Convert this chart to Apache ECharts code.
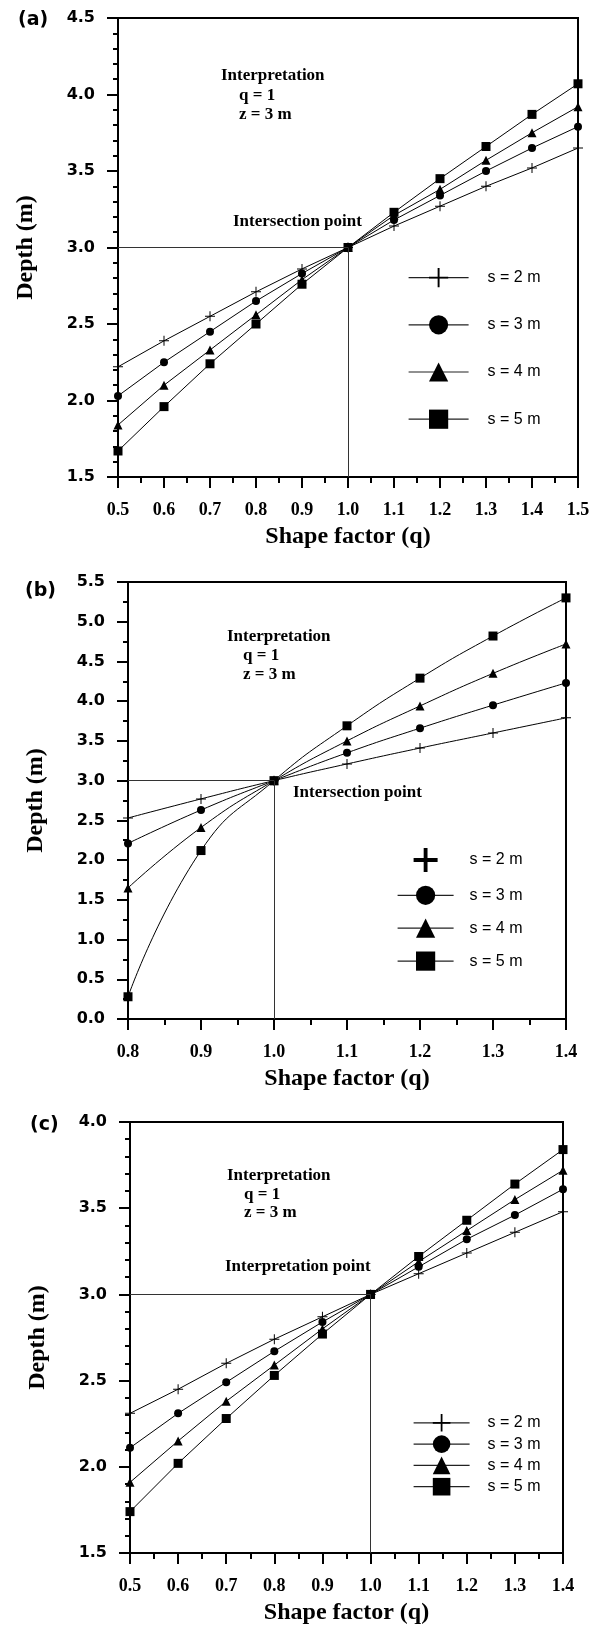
<!DOCTYPE html>
<html>
<head>
<meta charset="utf-8">
<script src="https://cdn.jsdelivr.net/npm/echarts@6.0.0/dist/echarts.min.js"></script>
<style>
  html, body { margin: 0; padding: 0; background: #fff; }
  #chart { width: 598px; height: 1626px; }
</style>
</head>
<body>
<div id="chart"></div>
<script>
// panel (a)
const qA = [0.5, 0.6, 0.7, 0.8, 0.9, 1.0, 1.1, 1.2, 1.3, 1.4, 1.5];
const a2 = [2.22, 2.39, 2.55, 2.71, 2.86, 3.0, 3.14, 3.27, 3.40, 3.52, 3.65];
const a3 = [2.03, 2.25, 2.45, 2.65, 2.83, 3.0, 3.18, 3.34, 3.50, 3.65, 3.79];
const a4 = [1.84, 2.10, 2.33, 2.56, 2.79, 3.0, 3.21, 3.38, 3.57, 3.75, 3.92];
const a5 = [1.67, 1.96, 2.24, 2.50, 2.76, 3.0, 3.23, 3.45, 3.66, 3.87, 4.07];

// panel (b)
const qB = [0.8, 0.9, 1.0, 1.1, 1.2, 1.3, 1.4];
const b2 = [2.53, 2.77, 3.0, 3.21, 3.41, 3.60, 3.79];
const b3 = [2.21, 2.63, 3.0, 3.35, 3.66, 3.95, 4.23];
const b4 = [1.65, 2.41, 3.0, 3.50, 3.94, 4.35, 4.72];
const b5 = [0.28, 2.12, 3.0, 3.69, 4.29, 4.82, 5.30];

// panel (c)
const qC = [0.5, 0.6, 0.7, 0.8, 0.9, 1.0, 1.1, 1.2, 1.3, 1.4];
const c2 = [2.31, 2.45, 2.60, 2.74, 2.87, 3.0, 3.12, 3.24, 3.36, 3.48];
const c3 = [2.11, 2.31, 2.49, 2.67, 2.84, 3.0, 3.16, 3.32, 3.46, 3.61];
const c4 = [1.91, 2.15, 2.38, 2.59, 2.80, 3.0, 3.19, 3.37, 3.55, 3.72];
const c5 = [1.74, 2.02, 2.28, 2.53, 2.77, 3.0, 3.22, 3.43, 3.64, 3.84];

const names = ['s = 2 m', 's = 3 m', 's = 4 m', 's = 5 m'];
const panelTags = ['(a)', '(b)', '(c)'];
const xTitle = 'Shape factor (q)';
const yTitle = 'Depth (m)';
const noteLines = ['Interpretation', 'q = 1', 'z = 3 m'];
const pointTitles = ['Intersection point', 'Intersection point', 'Interpretation point'];

const PLUS = 'path://M4.5,0H5.5V10H4.5Z M0,4.5H10V5.5H0Z';
const PLUS_BOLD = 'path://M4.2,0H5.8V10H4.2Z M0,4.2H10V5.8H0Z';
const symbols = [PLUS, 'circle', 'triangle', 'rect'];
const markSizes = [10, 8, 9, 9];

const serif = 'Liberation Serif, Times New Roman, serif';
const sans = 'DejaVu Sans, Arial, sans-serif';
const arial = 'Liberation Sans, Arial, sans-serif';

const grids = [
    { left: 118, top: 18, width: 460, height: 459 },
    { left: 128, top: 582, width: 438, height: 437 },
    { left: 130, top: 1122, width: 433, height: 431 }
];
const xRanges = [[0.5, 1.5], [0.8, 1.4], [0.5, 1.4]];
const yRanges = [[1.5, 4.5], [0, 5.5], [1.5, 4.0]];
const yMinorSplit = [5, 2, 5];

function makeXAxis(i) {
    return {
        type: 'value', gridIndex: i,
        min: xRanges[i][0], max: xRanges[i][1], interval: 0.1,
        name: xTitle, nameLocation: 'middle', nameGap: 48,
        nameTextStyle: { fontFamily: serif, fontWeight: 'bold', fontSize: 24, color: '#000' },
        axisLine: { lineStyle: { color: '#000', width: 2 } },
        axisTick: { length: 11, lineStyle: { color: '#000', width: 2 } },
        minorTick: { show: true, splitNumber: 2, length: 6, lineStyle: { color: '#000', width: 2 } },
        splitLine: { show: false },
        axisLabel: {
            margin: 24, color: '#000', fontFamily: serif, fontWeight: 'bold', fontSize: 18,
            formatter: v => v.toFixed(1)
        }
    };
}

function makeYAxis(i) {
    return {
        type: 'value', gridIndex: i,
        min: yRanges[i][0], max: yRanges[i][1], interval: 0.5,
        name: yTitle, nameLocation: 'middle', nameGap: 80,
        nameTextStyle: { fontFamily: serif, fontWeight: 'bold', fontSize: 24, color: '#000' },
        axisLine: { lineStyle: { color: '#000', width: 2 } },
        axisTick: { length: 11, lineStyle: { color: '#000', width: 2 } },
        minorTick: { show: true, splitNumber: yMinorSplit[i], length: 5, lineStyle: { color: '#000', width: 2 } },
        splitLine: { show: false },
        axisLabel: {
            margin: 23, color: '#000', fontFamily: sans, fontWeight: 'bold', fontSize: 16,
            formatter: v => v.toFixed(1)
        }
    };
}

function makeSeries(i, qs, sets, smooth) {
    return sets.map((vals, k) => {
        const s = {
            name: names[k],
            type: 'line',
            xAxisIndex: i, yAxisIndex: i,
            data: qs.map((q, j) => [q, vals[j]]),
            smooth: smooth,
            symbol: symbols[k],
            symbolSize: markSizes[k],
            lineStyle: { color: '#000', width: 1 },
            itemStyle: { color: '#000' },
            z: 3
        };
        if (k === 0) {
            // guide lines through the intersection point
            s.markLine = {
                silent: true,
                symbol: 'none',
                label: { show: false },
                lineStyle: { color: '#333', width: 1, type: 'solid' },
                data: [
                    [{ coord: [xRanges[i][0], 3] }, { coord: [1, 3] }],
                    [{ coord: [1, 3] }, { coord: [1, yRanges[i][0]] }]
                ]
            };
        }
        return s;
    });
}

const legendBoxes = [
    { left: 403, top: 263, itemWidth: 60, itemHeight: 24, itemGap: 28, pad: 14 },
    { left: 392, top: 843, itemWidth: 56, itemHeight: 24, itemGap: 13.7, pad: 11 },
    { left: 408, top: 1409, itemWidth: 56, itemHeight: 22, itemGap: 3.7, pad: 13 }
];

function makeLegend(i) {
    const b = legendBoxes[i];
    const data = names.map((n, k) => {
        if (i === 1 && k === 0) return { name: n, icon: PLUS_BOLD };
        return { name: n };
    });
    return {
        orient: 'vertical',
        left: b.left, top: b.top,
        itemWidth: b.itemWidth, itemHeight: b.itemHeight, itemGap: b.itemGap,
        selectedMode: false,
        data: data,
        lineStyle: { color: '#222', width: 1.2 },
        textStyle: { fontFamily: arial, fontSize: 16, color: '#000', padding: [0, 0, 0, b.pad] }
    };
}

// annotation anchor points (px)
const noteAt = [[221, 76, 239], [227, 637, 243], [227, 1176, 244]];
const noteGap = [19.5, 18.8, 18.5];
const pointAt = [[233, 222], [293, 793], [225, 1267]];
const tagAt = [[18, 20], [25, 591], [30, 1125]];

const graphics = [];
for (let i = 0; i < 3; i++) {
    const t = { fontFamily: serif, fontWeight: 'bold', fontSize: 17, fill: '#000', textVerticalAlign: 'middle' };
    graphics.push({ type: 'text', x: noteAt[i][0], y: noteAt[i][1], style: Object.assign({ text: noteLines[0] }, t) });
    graphics.push({ type: 'text', x: noteAt[i][2], y: noteAt[i][1] + noteGap[i], style: Object.assign({ text: noteLines[1] }, t) });
    graphics.push({ type: 'text', x: noteAt[i][2], y: noteAt[i][1] + 2 * noteGap[i], style: Object.assign({ text: noteLines[2] }, t) });
    graphics.push({ type: 'text', x: pointAt[i][0], y: pointAt[i][1], style: Object.assign({ text: pointTitles[i] }, t) });
    graphics.push({
        type: 'text', x: tagAt[i][0], y: tagAt[i][1],
        style: { text: panelTags[i], fontFamily: sans, fontWeight: 'bold', fontSize: 19, fill: '#000', textVerticalAlign: 'middle' }
    });
}

const chart = echarts.init(document.getElementById('chart'));
chart.setOption({
    animation: false,
    backgroundColor: '#fff',
    grid: grids.map(g => Object.assign({ show: true, borderColor: '#000', borderWidth: 2, backgroundColor: 'transparent' }, g)),
    xAxis: [0, 1, 2].map(makeXAxis),
    yAxis: [0, 1, 2].map(makeYAxis),
    legend: [0, 1, 2].map(makeLegend),
    graphic: graphics,
    series: [].concat(
        makeSeries(0, qA, [a2, a3, a4, a5], false),
        makeSeries(1, qB, [b2, b3, b4, b5], true),
        makeSeries(2, qC, [c2, c3, c4, c5], false)
    )
});
</script>
</body>
</html>
